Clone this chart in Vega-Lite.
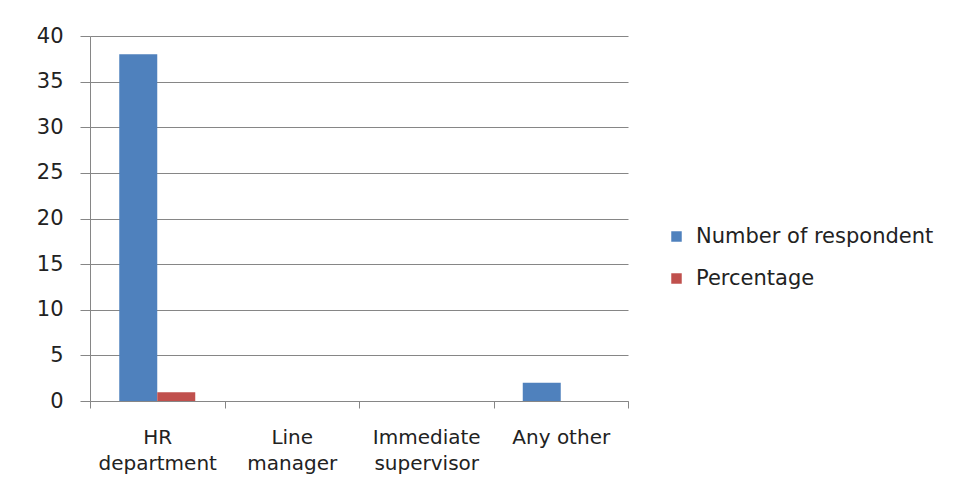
{
  "$schema": "https://vega.github.io/schema/vega-lite/v6.json",
  "width": 538,
  "height": 365,
  "autosize": "none",
  "padding": {"left": 90, "top": 36, "right": 329, "bottom": 97},
  "background": "white",
  "data": {
    "values": [
      {"category": "HR department", "series": "Number of respondent", "value": 38},
      {"category": "HR department", "series": "Percentage", "value": 0.95},
      {"category": "Line manager", "series": "Number of respondent", "value": 0},
      {"category": "Line manager", "series": "Percentage", "value": 0},
      {"category": "Immediate supervisor", "series": "Number of respondent", "value": 0},
      {"category": "Immediate supervisor", "series": "Percentage", "value": 0},
      {"category": "Any other", "series": "Number of respondent", "value": 2},
      {"category": "Any other", "series": "Percentage", "value": 0}
    ]
  },
  "mark": {"type": "bar"},
  "encoding": {
    "x": {
      "field": "category",
      "type": "nominal",
      "sort": ["HR department", "Line manager", "Immediate supervisor", "Any other"],
      "scale": {"paddingInner": 0, "paddingOuter": 0},
      "axis": {
        "title": null,
        "labelAngle": 0,
        "tickBand": "extent",
        "tickSize": 7,
        "tickColor": "#868686",
        "domainColor": "#868686",
        "labelPadding": 19,
        "labelFontSize": 20,
        "labelFont": "DejaVu Sans",
        "labelColor": "#222222",
        "labelLineHeight": 26,
        "labelBaseline": "top",
        "labelExpr": "datum.value == 'HR department' ? ['HR', 'department'] : datum.value == 'Line manager' ? ['Line', 'manager'] : datum.value == 'Immediate supervisor' ? ['Immediate', 'supervisor'] : datum.value"
      }
    },
    "xOffset": {
      "field": "series",
      "type": "nominal",
      "scale": {"paddingInner": 0, "paddingOuter": 0.77}
    },
    "y": {
      "field": "value",
      "type": "quantitative",
      "scale": {"domain": [0, 40]},
      "axis": {
        "title": null,
        "values": [0, 5, 10, 15, 20, 25, 30, 35, 40],
        "tickSize": 10,
        "tickColor": "#868686",
        "domainColor": "#868686",
        "gridColor": "#868686",
        "labelPadding": 17,
        "labelFontSize": 21,
        "labelFont": "DejaVu Sans",
        "labelColor": "#222222"
      }
    },
    "color": {
      "field": "series",
      "type": "nominal",
      "scale": {"domain": ["Number of respondent", "Percentage"], "range": ["#4F81BD", "#C0504D"]},
      "legend": {
        "title": null,
        "orient": "none",
        "legendX": 576,
        "legendY": 190,
        "symbolType": "square",
        "symbolSize": 110,
        "symbolStrokeWidth": 0,
        "labelFontSize": 21,
        "labelFont": "DejaVu Sans",
        "labelColor": "#222222",
        "labelLimit": 0,
        "rowPadding": 20,
        "labelOffset": 9
      }
    }
  },
  "config": {
    "view": {"stroke": null},
    "axis": {"domainWidth": 1, "gridWidth": 1}
  }
}
